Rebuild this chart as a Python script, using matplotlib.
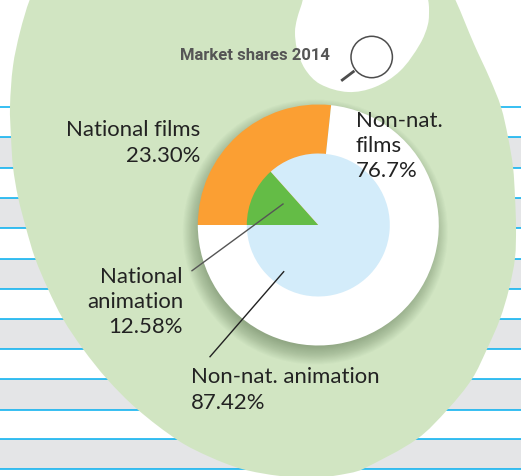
import matplotlib
matplotlib.use("Agg")
import matplotlib.pyplot as plt
from matplotlib.patches import Circle, PathPatch
from matplotlib.path import Path
import numpy as np

# shares as drawn in the picture (the wedges do not quite follow the printed labels)
outer_shares = [26.7, 73.3]
inner_shares = [13.4, 86.6]
outer_colors = ["#FB9F33", "#FFFFFF"]
inner_colors = ["#64BC46", "#D3ECFA"]

title = "Market shares 2014"
label_national_films = "National films\n23.30%"
label_nonnat_films = "Non-nat.\nfilms\n76.7%"
label_national_anim = "National\nanimation\n12.58%"
label_nonnat_anim = "Non-nat. animation\n87.42%"

W, H = 521, 477
PIE_X, PIE_Y, PIE_R, PIE_R_INNER = 318.3, 226, 120.5, 71.5

# rule positions of the striped paper behind the blob
rule_ys = [108.3, 138.3, 168.7, 198.7, 229, 259.5, 289.7, 320, 350, 380, 410.5, 440.3, 470]

blob_pts = [(48, -40), (30, 0), (20, 33), (13, 67), (10, 108), (11, 138), (13, 168), (18, 198), (26, 229),
            (35, 259), (48, 290), (63, 320), (83, 350), (107, 380), (137, 410), (179, 442),
            (210, 458), (242, 470), (280, 477), (315, 479), (350, 474), (363, 470), (417, 440), (448, 410),
            (472, 380), (487, 350), (500, 320), (509, 290), (515, 259), (516, 229), (515, 198),
            (513, 168), (508, 138), (501, 108), (490, 80), (474, 45), (455, 0), (435, -40), (250, -80)]
hole_pts = [(310, -40), (303, 0), (297, 20), (295, 33), (297, 50), (305, 70), (320, 85), (348, 93),
            (375, 88), (400, 72), (420, 45), (428, 25), (429, 8), (428, 0), (424, -40), (370, -80)]


def smooth_closed(pts):
    # smooth curve through the points, handles scaled to each chord so uneven spacing stays calm
    pts = np.array(pts, dtype=float)
    n = len(pts)
    tang = np.roll(pts, -1, axis=0) - np.roll(pts, 1, axis=0)
    tang = tang / np.linalg.norm(tang, axis=1, keepdims=True)
    verts = [pts[0]]
    codes = [Path.MOVETO]
    for i in range(n):
        j = (i + 1) % n
        chord = np.linalg.norm(pts[j] - pts[i]) / 3
        verts += [pts[i] + tang[i] * chord, pts[j] - tang[j] * chord, pts[j]]
        codes += [Path.CURVE4] * 3
    return Path(verts, codes)


fig = plt.figure(figsize=(W / 100, H / 100), dpi=100)

# background axes in pixel coordinates
ax = fig.add_axes([0, 0, 1, 1])
ax.set_xlim(0, W)
ax.set_ylim(H, 0)
ax.axis("off")

for y0, y1 in zip(rule_ys[1::2], rule_ys[2::2]):
    ax.axhspan(y0, y1, color="#E4E5E7", lw=0, zorder=1)
for y in rule_ys:
    ax.axhline(y, color="#00ADEF", lw=1.1, zorder=2)

blob = PathPatch(smooth_closed(blob_pts), fc="#D1E5C2", ec="none", zorder=3)
ax.add_patch(blob)
ax.add_patch(PathPatch(smooth_closed(hole_pts), fc="white", ec="none", zorder=4))

# soft drop shadow of the pie
for r in np.linspace(PIE_R + 12, PIE_R - 6, 18):
    sh = Circle((PIE_X - 3, PIE_Y + 7), r, fc="#3F5A35", ec="none", alpha=0.028, zorder=5)
    ax.add_patch(sh)
    sh.set_clip_path(blob)

# pie axes spans exactly the outer circle
pie_ax = fig.add_axes([(PIE_X - PIE_R) / W, 1 - (PIE_Y + PIE_R) / H, 2 * PIE_R / W, 2 * PIE_R / H])
pie_ax.patch.set_visible(False)
pie_ax.pie(outer_shares, colors=outer_colors, startangle=180, counterclock=False, radius=1)
pie_ax.pie(inner_shares, colors=inner_colors, startangle=180, counterclock=False,
           radius=PIE_R_INNER / PIE_R)
pie_ax.set_xlim(-1, 1)
pie_ax.set_ylim(-1, 1)

# overlay for leaders, labels and the magnifier
top = fig.add_axes([0, 0, 1, 1])
top.set_xlim(0, W)
top.set_ylim(H, 0)
top.axis("off")
top.patch.set_visible(False)

top.plot([283, 192], [205, 271.7], color="#555555", lw=1.0)
top.plot([283.7, 210], [272.7, 357.7], color="#222222", lw=1.0)

top.add_patch(Circle((371.7, 58), 20.7, fc="none", ec="#4D4D4D", lw=1.1))
top.plot([342.3, 353.3], [81, 72.7], color="#4D4D4D", lw=2.0)

body = dict(family=["Lato", "DejaVu Sans"], fontsize=15.9, color="#222222", linespacing=1.32)
top.text(200, 143, label_national_films, ha="right", va="center", **body)
top.text(356, 146, label_nonnat_films, ha="left", va="center", **body)
top.text(183, 302, label_national_anim, ha="right", va="center", **body)
top.text(191, 390, label_nonnat_anim, ha="left", va="center", **body)
top.text(180, 56, title, ha="left", va="center", family=["Roboto", "DejaVu Sans"],
         fontweight="bold", fontsize=12, color="#555555")

fig.savefig("out.png", dpi=100)
